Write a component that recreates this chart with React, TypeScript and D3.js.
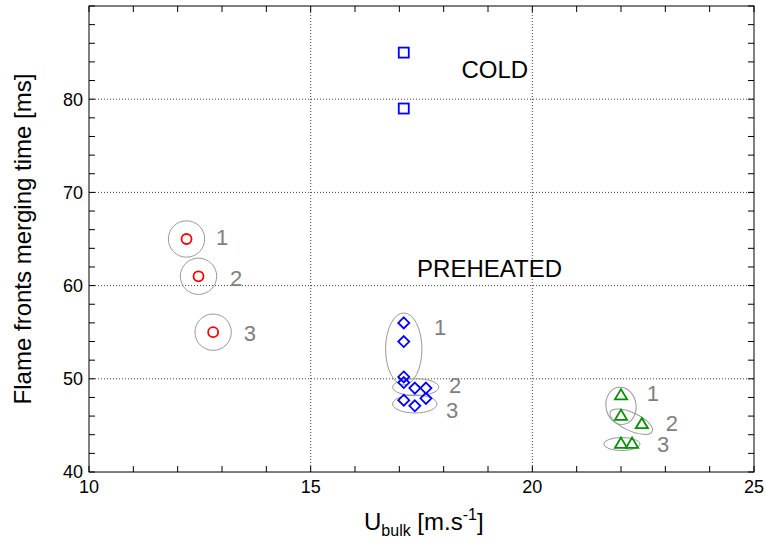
import React from "react";
import * as d3 from "d3";

// ---- data ----
const xTicks = [10, 15, 20, 25];
const yTicks = [40, 50, 60, 70, 80];
const xLabel = "U";
const xLabelSub = "bulk";
const yLabel = "Flame fronts merging time [ms]";

const circleU = [12.2, 12.47, 12.8];
const circleT = [65, 61, 55];

const squareU = [17.1, 17.1];
const squareT = [85, 79];

const diamondU = [17.1, 17.1, 17.1, 17.1, 17.35, 17.6, 17.6, 17.1, 17.35];
const diamondT = [56, 54, 50.2, 49.6, 49, 49, 47.9, 47.7, 47.1];

const triangleU = [22.0, 22.0, 22.47, 22.0, 22.25];
const triangleT = [48.3, 46.1, 45.2, 43.1, 43.1];

// grouping ellipses: centre (u,t), half-spread (du,dt), tilt
const groupU = [12.2, 12.47, 12.8, 17.1, 17.37, 17.35, 22.0, 22.23, 22.02];
const groupT = [65, 61, 55, 53.2, 49.1, 47.3, 47.1, 45.4, 43.0];
const groupDU = [0.41, 0.41, 0.41, 0.41, 0.52, 0.5, 0.34, 0.52, 0.41];
const groupDT = [1.95, 1.95, 1.95, 3.86, 0.91, 0.97, 2.0, 0.97, 0.7];
const groupTilt = [0, 0, 0, 0, 0, 0, -8, 25, 0];

const groupLabel = ["1", "2", "3", "1", "2", "3", "1", "2", "3"];
const labelU = [13.0, 13.32, 13.63, 17.92, 18.26, 18.19, 22.72, 23.15, 22.95];
const labelT = [65.2, 60.8, 54.9, 55.5, 49.3, 46.6, 48.5, 45.3, 43.0];

const notes = ["COLD", "PREHEATED"];
const noteU = [18.4, 17.4];
const noteT = [82.3, 60.9];

// ---- layout ----
const W = 766, H = 545;
const L = 89, R = 754, T = 6, B = 472;
const FONT = "'Liberation Sans', Arial, Helvetica, sans-serif";

export default function App() {
  const x = d3.scaleLinear().domain([10, 25]).range([L, R]);
  const y = d3.scaleLinear().domain([40, 90]).range([B, T]);

  const xMinor = d3.range(10, 25.001, 1);
  const yMinor = d3.range(40, 90.001, 2);
  const tl = 6;

  const diamond = (cx: number, cy: number, r: number) =>
    `M${cx},${cy - r}L${cx + r},${cy}L${cx},${cy + r}L${cx - r},${cy}Z`;
  const tri = (cx: number, cy: number, r: number) =>
    `M${cx},${cy - r}L${cx + r * 1.1},${cy + r * 0.85}L${cx - r * 1.1},${cy + r * 0.85}Z`;

  const green = "#009000";

  return (
    <svg width={W} height={H} style={{ display: "block", position: "absolute", left: 0, top: 0 }}>
      <rect x={0} y={0} width={W} height={H} fill="#fff" />
      {/* grid */}
      <g stroke="#000" strokeWidth={1} strokeDasharray="1,2" opacity={0.75}>
        {xTicks.filter((v) => v > 10 && v < 25).map((v) => (
          <line key={"gx" + v} x1={x(v)} x2={x(v)} y1={T} y2={B} />
        ))}
        {yTicks.filter((v) => v > 40).map((v) => (
          <line key={"gy" + v} x1={L} x2={R} y1={y(v)} y2={y(v)} />
        ))}
      </g>
      {/* ticks */}
      <g stroke="#000" strokeWidth={1}>
        {xMinor.map((v) => (
          <g key={"tx" + v}>
            <line x1={x(v)} x2={x(v)} y1={B} y2={B - tl} />
            <line x1={x(v)} x2={x(v)} y1={T} y2={T + tl} />
          </g>
        ))}
        {yMinor.map((v) => (
          <g key={"ty" + v}>
            <line x1={L} x2={L + tl} y1={y(v)} y2={y(v)} />
            <line x1={R} x2={R - tl} y1={y(v)} y2={y(v)} />
          </g>
        ))}
      </g>
      <rect x={L} y={T} width={R - L} height={B - T} fill="none" stroke="#000" strokeWidth={1} />

      {/* tick labels */}
      <g fontFamily={FONT} fontSize={18} fill="#000">
        {xTicks.map((v) => (
          <text key={"lx" + v} x={x(v)} y={B + 21} textAnchor="middle">{v}</text>
        ))}
        {yTicks.map((v) => (
          <text key={"ly" + v} x={L - 6} y={y(v)} dy="0.36em" textAnchor="end">{v}</text>
        ))}
      </g>

      {/* axis labels */}
      <text fontFamily={FONT} fontSize={24} x={364} y={530}>
        {xLabel}
        <tspan fontSize={16} dy={6}>{xLabelSub}</tspan>
        <tspan fontSize={24} dy={-6}>{" [m.s"}</tspan>
        <tspan fontSize={16} dy={-10}>-1</tspan>
        <tspan fontSize={24} dy={10}>]</tspan>
      </text>
      <text
        fontFamily={FONT}
        fontSize={24}
        textAnchor="middle"
        transform={`translate(31,${(T + B) / 2}) rotate(-90)`}
      >
        {yLabel}
      </text>

      {/* group ellipses */}
      <g fill="none" stroke="#999" strokeWidth={1}>
        {groupU.map((u, i) => {
          const cx = x(u), cy = y(groupT[i]);
          const rx = x(u + groupDU[i]) - cx;
          const ry = cy - y(groupT[i] + groupDT[i]);
          return (
            <ellipse key={"e" + i} cx={cx} cy={cy} rx={rx} ry={ry}
              transform={`rotate(${groupTilt[i]},${cx},${cy})`} />
          );
        })}
      </g>
      <g fontFamily={FONT} fontSize={22} fill="#808080">
        {groupLabel.map((s, i) => (
          <text key={"gl" + i} x={x(labelU[i])} y={y(labelT[i])} dy="0.36em" textAnchor="middle">{s}</text>
        ))}
      </g>

      {/* markers */}
      <g fill="none" strokeWidth={1.8}>
        {circleU.map((u, i) => (
          <circle key={"c" + i} cx={x(u)} cy={y(circleT[i])} r={5} stroke="#ff0000" />
        ))}
        {squareU.map((u, i) => (
          <rect key={"s" + i} x={x(u) - 5} y={y(squareT[i]) - 5} width={10} height={10} stroke="#0000ff" />
        ))}
        {diamondU.map((u, i) => (
          <path key={"d" + i} d={diamond(x(u), y(diamondT[i]), 5.5)} stroke="#0000ff" />
        ))}
        {triangleU.map((u, i) => (
          <path key={"t" + i} d={tri(x(u), y(triangleT[i]), 5.5)} stroke={green} />
        ))}
      </g>

      {/* notes */}
      <g fontFamily={FONT} fontSize={24} fill="#000">
        {notes.map((s, i) => (
          <text key={"n" + i} x={x(noteU[i])} y={y(noteT[i])}>{s}</text>
        ))}
      </g>
    </svg>
  );
}
